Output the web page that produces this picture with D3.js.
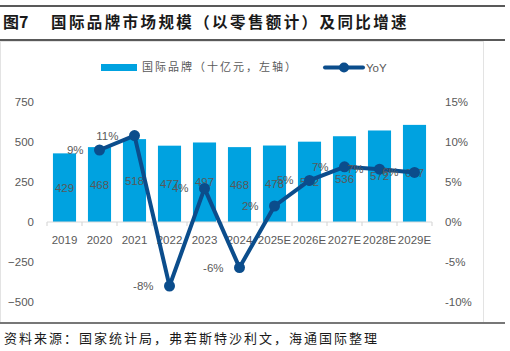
<!DOCTYPE html>
<html>
<head>
<meta charset="utf-8">
<script src="https://cdn.jsdelivr.net/npm/d3@7"></script>
<style>
  body { margin: 0; background: #fff; }
  svg { font-family: "Liberation Sans", "Noto Sans CJK SC", sans-serif; }
</style>
</head>
<body>
<svg width="510" height="351"></svg>
<script>
var years = ["2019", "2020", "2021", "2022", "2023", "2024", "2025E", "2026E", "2027E", "2028E", "2029E"];
var sales = [429, 468, 518, 477, 497, 468, 478, 502, 536, 572, 607];
var yoy = [null, 9.0, 10.8, -8.0, 4.2, -5.7, 2.0, 5.2, 6.9, 6.6, 6.2];
var yoyLabels = ["", "9%", "11%", "-8%", "4%", "-6%", "2%", "5%", "7%", "7%", "6%"];
var leftTicks = [-500, -250, 0, 250, 500, 750];
var rightTicks = [-10, -5, 0, 5, 10, 15];

var barColor = "#00a2e0",
  lineColor = "#0b4d8c",
  textColor = "#595959";

var svg = d3.select("svg");

// header lines + title
svg.append("line").attr("x1", 0).attr("x2", 505).attr("y1", 6).attr("y2", 6)
  .attr("stroke", "#222").attr("stroke-width", 1.5);
svg.append("line").attr("x1", 0).attr("x2", 505).attr("y1", 40).attr("y2", 40)
  .attr("stroke", "#222").attr("stroke-width", 1.5);
svg.append("text").attr("x", 3).attr("y", 28)
  .style("font-size", "16px").style("font-weight", "bold").attr("fill", "#1a1a1a")
  .style("font-family", "Noto Sans CJK SC")
  .text("图7");
svg.append("text").attr("x", 51).attr("y", 28)
  .style("font-size", "15.5px").style("font-weight", "bold").attr("fill", "#1a1a1a")
  .style("font-family", "Noto Sans CJK SC").style("letter-spacing", "2.4px")
  .text("国际品牌市场规模（以零售额计）及同比增速");

// plot box
svg.append("rect").attr("x", 0.5).attr("y", 41.5).attr("width", 483).attr("height", 281)
  .attr("fill", "none").attr("stroke", "#e3e3e3");
svg.append("line").attr("x1", 0).attr("x2", 505).attr("y1", 323).attr("y2", 323)
  .attr("stroke", "#777").attr("stroke-width", 2);

// footer
svg.append("text").attr("x", 4).attr("y", 343)
  .style("font-size", "13px").attr("fill", "#1a1a1a")
  .style("font-family", "Noto Sans CJK SC").style("letter-spacing", "2px")
  .text("资料来源：国家统计局，弗若斯特沙利文，海通国际整理");

// scales
var x = d3.scaleBand().domain(years).range([47, 432]).paddingInner(0.34).paddingOuter(0.17);
var yL = d3.scaleLinear().domain([-500, 750]).range([302, 102]);
var yR = d3.scaleLinear().domain([-10, 15]).range([302, 102]);
var step = x.step();

// left axis
var gl = svg.append("g").attr("transform", "translate(36,0)")
  .call(d3.axisLeft(yL).tickValues(leftTicks).tickSize(0).tickPadding(2));
gl.select(".domain").remove();
gl.selectAll("text").attr("fill", textColor).style("font-size", "11.5px")
  .style("font-family", "Liberation Sans");

// right axis
var gr = svg.append("g").attr("transform", "translate(443,0)")
  .call(d3.axisRight(yR).tickValues(rightTicks).tickSize(0).tickPadding(2)
    .tickFormat(function (d) { return d + "%"; }));
gr.select(".domain").remove();
gr.selectAll("text").attr("fill", textColor).style("font-size", "11.5px")
  .style("font-family", "Liberation Sans");

// bars
svg.append("g").selectAll("rect").data(sales).enter().append("rect")
  .attr("x", function (d, i) { return x(years[i]); })
  .attr("y", function (d) { return yL(d); })
  .attr("width", x.bandwidth())
  .attr("height", function (d) { return yL(0) - yL(d); })
  .attr("fill", barColor);

// x axis
svg.append("line").attr("x1", 47).attr("x2", 432).attr("y1", yL(0)).attr("y2", yL(0))
  .attr("stroke", "#d9d9d9").attr("stroke-width", 1.2);
svg.append("g").selectAll("line").data(d3.range(years.length + 1)).enter().append("line")
  .attr("x1", function (i) { return 47 + i * step; })
  .attr("x2", function (i) { return 47 + i * step; })
  .attr("y1", yL(0)).attr("y2", yL(0) + 4)
  .attr("stroke", "#d9d9d9").attr("stroke-width", 1.2);

svg.append("g").selectAll("text").data(years).enter().append("text")
  .attr("x", function (d) { return x(d) + x.bandwidth() / 2; })
  .attr("y", yL(0) + 22)
  .attr("text-anchor", "middle")
  .attr("fill", textColor).style("font-size", "11.5px")
  .text(function (d) { return d; });

// bar value labels
svg.append("g").selectAll("text").data(sales).enter().append("text")
  .attr("x", function (d, i) { return x(years[i]) + x.bandwidth() / 2; })
  .attr("y", function (d) { return (yL(d) + yL(0)) / 2 + 4; })
  .attr("text-anchor", "middle")
  .attr("fill", textColor).style("font-size", "11.5px")
  .text(function (d) { return d; });

// yoy line
var pts = yoy.map(function (d, i) { return { v: d, year: years[i], label: yoyLabels[i] }; })
  .filter(function (d) { return d.v !== null; });
var line = d3.line()
  .x(function (d) { return x(d.year) + x.bandwidth() / 2; })
  .y(function (d) { return yR(d.v); });
svg.append("path").datum(pts).attr("d", line)
  .attr("fill", "none").attr("stroke", lineColor).attr("stroke-width", 4)
  .attr("stroke-linejoin", "round");
svg.append("g").selectAll("circle").data(pts).enter().append("circle")
  .attr("cx", function (d) { return x(d.year) + x.bandwidth() / 2; })
  .attr("cy", function (d) { return yR(d.v); })
  .attr("r", 5.5).attr("fill", lineColor);

svg.append("g").selectAll("text").data(pts).enter().append("text")
  .attr("x", function (d) { return x(d.year) + x.bandwidth() / 2 - 16; })
  .attr("y", function (d) { return yR(d.v) + 4; })
  .attr("text-anchor", "end")
  .attr("fill", textColor).style("font-size", "11.5px")
  .text(function (d) { return d.label; });

// legend
svg.append("rect").attr("x", 101).attr("y", 64).attr("width", 36).attr("height", 7)
  .attr("fill", barColor);
svg.append("text").attr("x", 142).attr("y", 71)
  .attr("fill", textColor).style("font-size", "11px")
  .style("font-family", "Noto Sans CJK SC").style("letter-spacing", "2px")
  .text("国际品牌（十亿元，左轴）");
svg.append("line").attr("x1", 325).attr("x2", 363).attr("y1", 67.5).attr("y2", 67.5)
  .attr("stroke", lineColor).attr("stroke-width", 4).attr("stroke-linecap", "round");
svg.append("circle").attr("cx", 344).attr("cy", 67.5).attr("r", 5).attr("fill", lineColor);
svg.append("text").attr("x", 366).attr("y", 72)
  .attr("fill", textColor).style("font-size", "11.5px")
  .text("YoY");
</script>
</body>
</html>
